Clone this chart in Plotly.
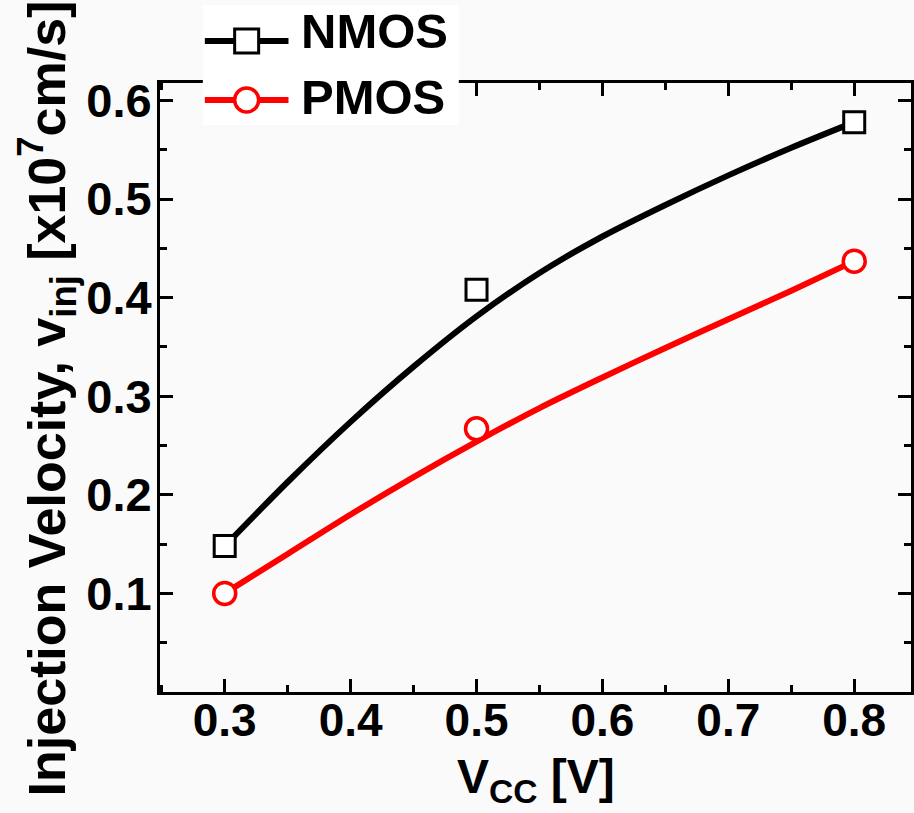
import plotly.graph_objects as go

# ---- data ----
vcc = [0.3, 0.5, 0.8]
nmos = [0.148, 0.408, 0.578]
pmos = [0.100, 0.267, 0.437]

# smooth fitted curves as drawn in the reference
fit_x = [0.30, 0.35, 0.40, 0.45, 0.50, 0.55, 0.60, 0.65, 0.70, 0.75, 0.80]
nmos_fit = [0.148, 0.213, 0.274, 0.330, 0.381, 0.425, 0.462, 0.494, 0.524, 0.552, 0.578]
pmos_fit = [0.100, 0.140, 0.180, 0.218, 0.254, 0.288, 0.319, 0.349, 0.378, 0.407, 0.437]

x_ticks = [0.3, 0.4, 0.5, 0.6, 0.7, 0.8]
y_ticks = [0.1, 0.2, 0.3, 0.4, 0.5, 0.6]

BLACK = "#000000"
RED = "#ff0000"
ARIAL = "Liberation Sans, Arial, sans-serif"

fig = go.Figure()
fig.add_trace(go.Scatter(x=fit_x, y=nmos_fit, mode="lines",
                         line=dict(color=BLACK, width=6, shape="spline", smoothing=0.8),
                         showlegend=False, hoverinfo="skip"))
fig.add_trace(go.Scatter(x=fit_x, y=pmos_fit, mode="lines",
                         line=dict(color=RED, width=6, shape="spline", smoothing=0.8),
                         showlegend=False, hoverinfo="skip"))
fig.add_trace(go.Scatter(x=vcc, y=nmos, mode="markers", name="NMOS",
                         marker=dict(symbol="square", size=21, color="white", line=dict(color=BLACK, width=3)),
                         showlegend=False, cliponaxis=False))
fig.add_trace(go.Scatter(x=vcc, y=pmos, mode="markers", name="PMOS",
                         marker=dict(symbol="circle", size=22, color="white", line=dict(color=RED, width=3.5)),
                         showlegend=False, cliponaxis=False))

L, R, T, B = 160, 0, 83, 121
W, H = 914, 813
pw, ph = W - L - R, H - T - B


def px(x):
    return (x - L) / pw


def py(y):
    return (H - B - y) / ph


shapes = [
    dict(type="rect", xref="paper", yref="paper", x0=px(203), x1=px(460), y0=py(125), y1=py(5),
         fillcolor="white", line=dict(width=0), layer="above"),
    dict(type="line", xref="paper", yref="paper", x0=px(205), x1=px(289), y0=py(41), y1=py(41),
         line=dict(color=BLACK, width=6), layer="above"),
    dict(type="line", xref="paper", yref="paper", x0=px(205), x1=px(289), y0=py(100), y1=py(100),
         line=dict(color=RED, width=6), layer="above"),
    dict(type="rect", xref="paper", yref="paper", xsizemode="pixel", ysizemode="pixel",
         xanchor=px(247), yanchor=py(41), x0=-12, x1=12, y0=-12, y1=12,
         fillcolor="white", line=dict(color=BLACK, width=3), layer="above"),
    dict(type="circle", xref="paper", yref="paper", xsizemode="pixel", ysizemode="pixel",
         xanchor=px(247), yanchor=py(100), x0=-12, x1=12, y0=-12, y1=12,
         fillcolor="white", line=dict(color=RED, width=3.5), layer="above"),
]

annotations = [
    dict(text="NMOS", xref="paper", yref="paper", x=px(300), y=py(31), xanchor="left", yanchor="middle",
         showarrow=False, font=dict(family=ARIAL, size=49, color=BLACK, weight="bold")),
    dict(text="PMOS", xref="paper", yref="paper", x=px(300), y=py(97), xanchor="left", yanchor="middle",
         showarrow=False, font=dict(family=ARIAL, size=49, color=BLACK, weight="bold")),
    # axis titles
    dict(text="V<sub>CC</sub> [V]", xref="paper", yref="paper", x=px(538), y=py(780),
         xanchor="center", yanchor="middle", showarrow=False,
         font=dict(family=ARIAL, size=48, color=BLACK, weight="bold")),
    dict(text="Injection Velocity, v<sub>inj</sub> [x10<sup>7</sup>cm/s]", xref="paper", yref="paper",
         x=px(47), y=py(398), xanchor="center", yanchor="middle", textangle=-90, showarrow=False,
         font=dict(family=ARIAL, size=52, color=BLACK, weight="bold")),
]

axis_common = dict(
    showline=True, linecolor=BLACK, linewidth=3, mirror="ticks",
    ticks="inside", ticklen=13, tickwidth=3, tickcolor=BLACK,
    showgrid=False, zeroline=False,
    minor=dict(ticks="inside", ticklen=7, tickwidth=3, tickcolor=BLACK, dtick=0.05, showgrid=False),
)

fig.update_layout(
    width=W, height=H,
    margin=dict(l=L, r=R, t=T, b=B),
    paper_bgcolor="#fafafa", plot_bgcolor="#fafafa",
    shapes=shapes, annotations=annotations,
    xaxis=dict(
        range=[0.2486, 0.8451], tickvals=x_ticks, ticktext=[f"{v:.1f}" for v in x_ticks],
        tickfont=dict(family=ARIAL, size=46, color=BLACK, weight="bold"),
        ticklabelstandoff=-14,
        **axis_common,
    ),
    yaxis=dict(
        range=[0, 0.6177], tickvals=y_ticks, ticktext=[f"{v:.1f}" for v in y_ticks],
        tickfont=dict(family=ARIAL, size=47, color=BLACK, weight="bold"),
        ticklabelstandoff=-4,
        **axis_common,
    ),
)

fig.write_html("out.html")
